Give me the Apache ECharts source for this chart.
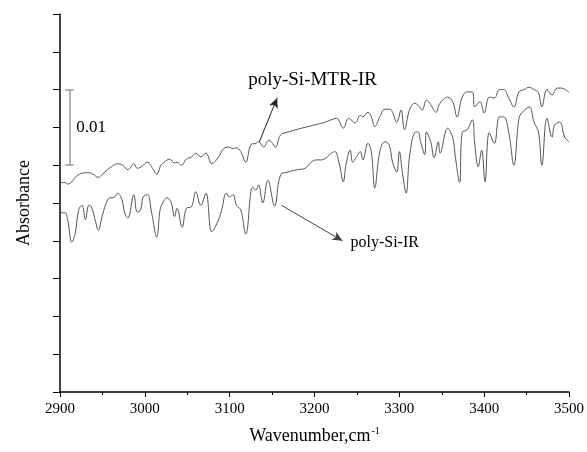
<!DOCTYPE html>
<html><head><meta charset="utf-8">
<script src="https://cdn.jsdelivr.net/npm/echarts@6/dist/echarts.min.js"></script>
<style>html,body{margin:0;padding:0;background:#fff}#c{width:587px;height:452px}</style>
</head><body><div id="c"></div>
<script>
// ---- data ----
const xTickValues = [2900, 3000, 3100, 3200, 3300, 3400, 3500];
const mtrWavenumber = [2900,2906,2909,2914,2918,2923,2929,2935,2939,2945,2950,2956,2962,2968,2974,2980,2987,2991,2996,3003,3009,3014,3019,3023,3029,3035,3038,3043,3049,3055,3060,3066,3072,3079,3087,3093,3099,3103,3108,3113,3119,3125,3131,3134,3140,3146,3149,3154,3160,3169,3185,3199,3210,3222,3226,3234,3240,3243,3248,3254,3257,3263,3267,3271,3277,3283,3289,3292,3297,3302,3306,3312,3318,3324,3327,3332,3337,3343,3348,3357,3363,3368,3374,3380,3386,3389,3395,3400,3406,3412,3418,3423,3429,3435,3441,3447,3453,3459,3464,3468,3474,3480,3486,3491,3500];
const mtrAbsorbance = [0.0277,0.0277,0.0275,0.0278,0.0284,0.0288,0.0290,0.0290,0.0288,0.0284,0.0288,0.0294,0.0299,0.0302,0.0300,0.0294,0.0302,0.0296,0.0298,0.0304,0.0296,0.0288,0.0300,0.0304,0.0308,0.0303,0.0304,0.0300,0.0308,0.0311,0.0316,0.0311,0.0316,0.0302,0.0311,0.0322,0.0324,0.0322,0.0323,0.0318,0.0304,0.0327,0.0329,0.0331,0.0324,0.0333,0.0331,0.0324,0.0340,0.0344,0.0349,0.0353,0.0356,0.0361,0.0362,0.0349,0.0362,0.0360,0.0356,0.0366,0.0364,0.0370,0.0364,0.0351,0.0364,0.0374,0.0374,0.0370,0.0357,0.0373,0.0347,0.0373,0.0382,0.0377,0.0373,0.0386,0.0380,0.0370,0.0382,0.0390,0.0384,0.0364,0.0390,0.0397,0.0397,0.0377,0.0384,0.0369,0.0390,0.0389,0.0400,0.0400,0.0389,0.0377,0.0397,0.0400,0.0403,0.0400,0.0396,0.0377,0.0400,0.0393,0.0402,0.0402,0.0396];
const irWavenumber = [2900,2906,2909,2914,2918,2922,2926,2930,2934,2937,2942,2945,2950,2956,2960,2963,2968,2973,2976,2980,2987,2991,2995,2998,3003,3008,3014,3018,3021,3026,3031,3035,3038,3044,3049,3055,3060,3066,3072,3079,3087,3091,3096,3100,3104,3108,3113,3119,3125,3127,3131,3134,3139,3145,3153,3160,3169,3179,3189,3195,3202,3208,3214,3220,3224,3229,3234,3237,3242,3245,3249,3254,3257,3263,3267,3271,3277,3283,3288,3292,3297,3300,3304,3308,3312,3318,3322,3325,3330,3332,3337,3341,3346,3348,3357,3363,3366,3371,3374,3380,3386,3389,3393,3397,3401,3406,3412,3418,3423,3429,3435,3441,3445,3453,3459,3464,3468,3474,3480,3483,3489,3495,3500];
const irAbsorbance = [0.0237,0.0237,0.0228,0.0198,0.0210,0.0241,0.0247,0.0228,0.0247,0.0245,0.0225,0.0214,0.0234,0.0254,0.0257,0.0257,0.0263,0.0254,0.0238,0.0230,0.0261,0.0238,0.0241,0.0258,0.0261,0.0237,0.0205,0.0241,0.0250,0.0257,0.0251,0.0232,0.0243,0.0218,0.0243,0.0245,0.0265,0.0247,0.0263,0.0212,0.0228,0.0243,0.0263,0.0258,0.0261,0.0247,0.0241,0.0209,0.0265,0.0271,0.0267,0.0274,0.0250,0.0280,0.0246,0.0287,0.0291,0.0294,0.0296,0.0303,0.0307,0.0307,0.0310,0.0316,0.0318,0.0303,0.0278,0.0300,0.0320,0.0304,0.0310,0.0318,0.0307,0.0329,0.0318,0.0270,0.0318,0.0331,0.0327,0.0304,0.0291,0.0318,0.0287,0.0263,0.0311,0.0343,0.0344,0.0331,0.0314,0.0344,0.0331,0.0310,0.0331,0.0316,0.0349,0.0336,0.0311,0.0277,0.0343,0.0347,0.0360,0.0327,0.0298,0.0320,0.0278,0.0343,0.0329,0.0364,0.0364,0.0343,0.0300,0.0362,0.0370,0.0377,0.0356,0.0344,0.0300,0.0362,0.0337,0.0353,0.0357,0.0337,0.0331];
const seriesNames = ['poly-Si-MTR-IR', 'poly-Si-IR'];
const scaleBarLabel = '0.01';
const scaleBarStart = 0.030, scaleBarEnd = 0.040, scaleBarWavenumber = 2911;
// annotation arrows: [from, to] in data coordinates
const mtrArrow = [[3135, 0.0331], [3156, 0.0389]];
const irArrow = [[3161, 0.0247], [3233, 0.0200]];

// ---- chart ----
const serif = "'Liberation Serif','Times New Roman',serif";
const pairs = (xs, ys) => xs.map((x, i) => [x, ys[i]]);
const chart = echarts.init(document.getElementById('c'), null, {renderer: 'canvas'});
const capHalf = 5;
chart.setOption({
  animation: false,
  backgroundColor: '#fff',
  grid: {left: 60, right: 14, top: 14, bottom: 60, containLabel: false},
  xAxis: {
    type: 'value', min: 2900, max: 3500, interval: 100,
    name: '{a|Wavenumber,cm}{b|-1}', nameLocation: 'middle', nameGap: 34,
    nameTextStyle: {
      fontFamily: serif, color: '#000',
      rich: {
        a: {fontFamily: serif, fontSize: 18, color: '#000'},
        b: {fontFamily: serif, fontSize: 10, color: '#000', verticalAlign: 'top', padding: [0, 0, 10, 1]}
      }
    },
    axisLine: {onZero: false, lineStyle: {color: '#000', width: 1.5}},
    axisTick: {inside: false, length: 5, lineStyle: {color: '#000', width: 1}},
    minorTick: {show: true, splitNumber: 2, length: 3, lineStyle: {color: '#000', width: 1}},
    axisLabel: {fontFamily: serif, fontSize: 15, color: '#000', margin: 10,
      formatter: v => xTickValues.includes(v) ? String(v) : ''},
    splitLine: {show: false}
  },
  yAxis: {
    type: 'value', min: 0, max: 0.05, interval: 0.005,
    name: 'Absorbance', nameLocation: 'middle', nameGap: 27, nameRotate: 90,
    nameTextStyle: {fontFamily: serif, fontSize: 18, color: '#000'},
    axisLine: {show: true, onZero: false, lineStyle: {color: '#000', width: 1.5}},
    axisTick: {show: true, inside: false, length: 7, lineStyle: {color: '#000', width: 1}},
    axisLabel: {show: false},
    splitLine: {show: false}
  },
  series: [
    {
      name: seriesNames[0], type: 'line', data: pairs(mtrWavenumber, mtrAbsorbance),
      showSymbol: false, smooth: 0.4, lineStyle: {color: '#555', width: 1}, silent: true,
      markLine: {
        silent: true, symbol: ['none', 'arrow'], symbolSize: [7, 10],
        lineStyle: {color: '#222', width: 1, type: 'solid'}, label: {show: false},
        data: [[{coord: mtrArrow[0]}, {coord: mtrArrow[1]}]]
      }
    },
    {
      name: seriesNames[1], type: 'line', data: pairs(irWavenumber, irAbsorbance),
      showSymbol: false, smooth: 0.4, lineStyle: {color: '#555', width: 1}, silent: true,
      markLine: {
        silent: true, symbol: ['none', 'arrow'], symbolSize: [7, 10],
        lineStyle: {color: '#444', width: 1, type: 'solid'}, label: {show: false},
        data: [[{coord: irArrow[0]}, {coord: irArrow[1]}]]
      }
    },
    {
      name: 'scale', type: 'line', data: [], silent: true,
      markLine: {
        silent: true, symbol: ['none', 'none'], label: {show: false},
        lineStyle: {color: '#999', width: 1.5, type: 'solid'},
        data: [
          [{coord: [scaleBarWavenumber, scaleBarStart]}, {coord: [scaleBarWavenumber, scaleBarEnd]}],
          [{coord: [scaleBarWavenumber - capHalf, scaleBarStart]}, {coord: [scaleBarWavenumber + capHalf, scaleBarStart]}],
          [{coord: [scaleBarWavenumber - capHalf, scaleBarEnd]}, {coord: [scaleBarWavenumber + capHalf, scaleBarEnd]}]
        ]
      }
    }
  ]
});
// text annotations positioned from data coordinates
const p1 = chart.convertToPixel({gridIndex: 0}, [3156, 0.0389]);
const p2 = chart.convertToPixel({gridIndex: 0}, [3233, 0.0200]);
const p3 = chart.convertToPixel({gridIndex: 0}, [scaleBarWavenumber, (scaleBarStart + scaleBarEnd) / 2]);
chart.setOption({
  graphic: [
    {type: 'text', x: p1[0] - 29, y: p1[1] - 18, style: {text: seriesNames[0], font: "19px 'Liberation Serif','Times New Roman',serif", fill: '#000', textVerticalAlign: 'middle'}},
    {type: 'text', x: p2[0] + 8, y: p2[1] + 2, style: {text: seriesNames[1], font: "16px 'Liberation Serif','Times New Roman',serif", fill: '#000', textVerticalAlign: 'middle'}},
    {type: 'text', x: p3[0] + 7, y: p3[1], style: {text: scaleBarLabel, font: "17px 'Liberation Serif','Times New Roman',serif", fill: '#000', textVerticalAlign: 'middle'}}
  ]
});
</script>
</body></html>
